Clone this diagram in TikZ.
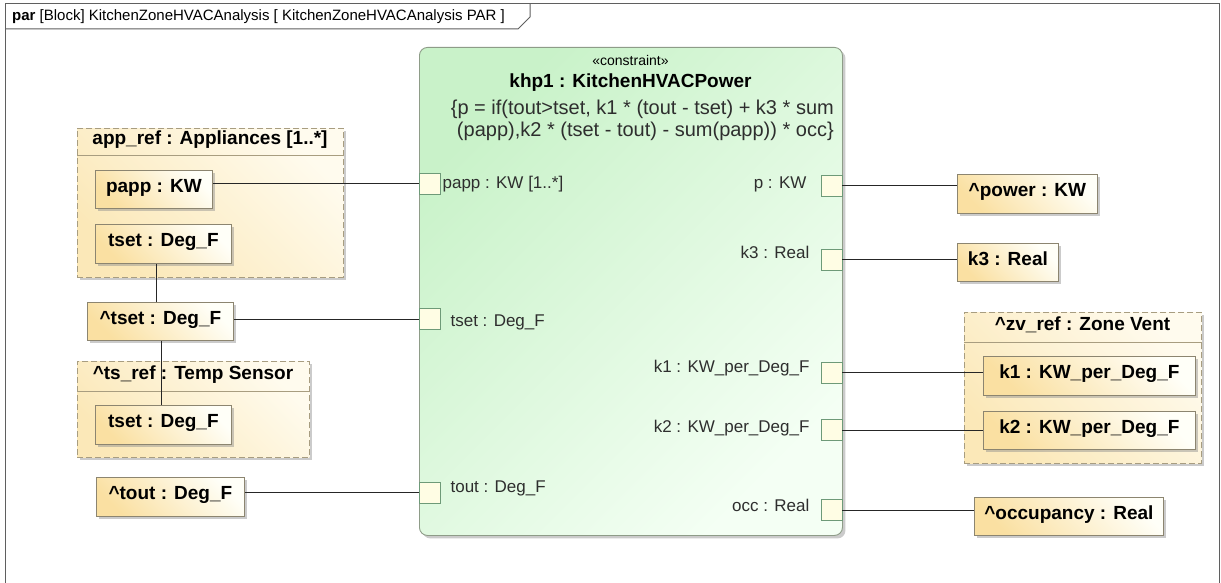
\documentclass[tikz,border=0pt]{standalone}
\usepackage{fontspec}
\setmainfont{Liberation Sans}
\usetikzlibrary{shadows,positioning}

\definecolor{frameline}{HTML}{5F5F5F}
\definecolor{propline}{HTML}{8C8570}
\definecolor{propdark}{HTML}{FAE0A2}
\definecolor{proplight}{HTML}{FFFFF8}
\definecolor{contline}{HTML}{A89D80}
\definecolor{contdark}{HTML}{FBE8B8}
\definecolor{contlight}{HTML}{FFFBEE}
\definecolor{blockline}{HTML}{8E9C88}
\definecolor{blockdark}{HTML}{C9F2C9}
\definecolor{blocklight}{HTML}{F4FFF4}
\definecolor{portline}{HTML}{6E9A78}
\definecolor{portfill}{HTML}{FFFDE4}
\definecolor{labelgray}{HTML}{2E2E2E}

\newcommand\proptext{\fontsize{19}{22}\selectfont\bfseries}
\newcommand\porttext{\fontsize{17}{20}\selectfont}

\tikzset{
  shadowed/.style={drop shadow={shadow xshift=3pt,shadow yshift=-3pt,fill=black!45,opacity=0.45}},
  propbox/.style={shadowed, draw=propline, line width=0.8pt,
    left color=propdark, right color=proplight, shading angle=135,
    font=\proptext, inner sep=0pt, text height=12pt, text depth=6pt, anchor=north west},
  container/.style={shadowed, draw=contline, line width=0.9pt, dash pattern=on 6pt off 3pt,
    left color=contdark, right color=contlight, shading angle=135,
    inner sep=0pt, anchor=north west},
  conttitle/.style={font=\proptext, inner sep=0pt, text height=12pt, text depth=6pt},
  headsep/.style={draw=contline, line width=0.9pt},
  cblock/.style={shadowed, draw=blockline, line width=0.9pt, rounded corners=8pt,
    left color=blockdark, right color=blocklight, shading angle=45,
    inner sep=0pt, anchor=north west},
  portbox/.style={draw=portline, fill=portfill, line width=0.8pt, minimum size=21pt, inner sep=0pt},
  portlabel/.style={font=\porttext, text=labelgray, inner sep=0pt, text height=12pt, text depth=4pt},
  wire/.style={draw=black!85, line width=0.9pt},
}

\begin{document}
\begin{tikzpicture}[x=1pt,y=-1pt]
\useasboundingbox (0,0) rectangle (1221,583);
\fill[white] (0,0) rectangle (1221,583);

% diagram frame and its name tab
\draw[frameline, line width=1pt] (5,583) -- (5,4) -- (1219,4) -- (1219,583);
\draw[frameline, line width=1pt] (5,29) -- (518,29) -- (530,17) -- (530,4);
\node[anchor=west, inner sep=0pt, font=\fontsize{15}{17}\selectfont] (tabtext) at (12,17)
  {\textbf{par} [Block] KitchenZoneHVACAnalysis [ KitchenZoneHVACAnalysis PAR ]};

% constraint property
\node[cblock, minimum width=423, minimum height=488] (khp) at (419,47) {};
\node[font=\fontsize{14}{16}\selectfont, inner sep=0pt] (stereo) at (630.5,60) {«constraint»};
\node[font=\fontsize{19}{22}\selectfont\bfseries, inner sep=0pt] (khptitle) at (630.5,83) {khp1 : KitchenHVACPower};
\node[font=\fontsize{20}{22}\selectfont, align=right, inner sep=0pt, text=labelgray, anchor=east] (formula) at (834,120)
  {\{p = if(tout>tset, k1 * (tout - tset) + k3 * sum\\(papp),k2 * (tset - tout) - sum(papp)) * occ\}};

% ports on the left side
\node[portbox] (pPapp) at (429.5,183.5) {};
\node[portbox] (pTset) at (429.5,319) {};
\node[portbox] (pTout) at (429.5,492.5) {};
\node[portlabel, anchor=west] (lPapp) at ([xshift=2pt,yshift=-1pt]pPapp.east) {papp : KW [1..*]};
\node[portlabel, anchor=west] (lTset) at ([xshift=10pt,yshift=-3pt]pTset.east) {tset : Deg\_F};
\node[portlabel, anchor=west] (lTout) at ([xshift=10pt,yshift=4pt]pTout.east) {tout : Deg\_F};

% ports on the right side
\node[portbox] (pP)   at (831.5,185.5) {};
\node[portbox] (pK3)  at (831.5,259.5) {};
\node[portbox] (pK1)  at (831.5,372.5) {};
\node[portbox] (pK2)  at (831.5,430) {};
\node[portbox] (pOcc) at (831.5,510) {};
\node[portlabel, anchor=east] (lP)   at ([xshift=-14pt,yshift=1pt]pP.west)   {p : KW};
\node[portlabel, anchor=east] (lK3)  at ([xshift=-11pt,yshift=5pt]pK3.west)  {k3 : Real};
\node[portlabel, anchor=east] (lK1)  at ([xshift=-11pt,yshift=4pt]pK1.west)  {k1 : KW\_per\_Deg\_F};
\node[portlabel, anchor=east] (lK2)  at ([xshift=-11pt,yshift=2pt]pK2.west)  {k2 : KW\_per\_Deg\_F};
\node[portlabel, anchor=east] (lOcc) at ([xshift=-11pt,yshift=3pt]pOcc.west) {occ : Real};

% appliances part
\node[container, minimum width=266, minimum height=149] (appref) at (77,128) {};
\draw[headsep] ([yshift=-27pt]appref.north west) -- ([yshift=-27pt]appref.north east);
\node[conttitle] (appreftitle) at (210,141.5) {app\_ref : Appliances [1..*]};
\node[propbox, minimum width=117, minimum height=38] (papp) at (95,170) {papp : KW};
\node[propbox, minimum width=136, minimum height=39] (tsetA) at (95,224) {tset : Deg\_F};

% set point value
\node[propbox, minimum width=146, minimum height=38] (tsetH) at (87,302) {\textasciicircum tset : Deg\_F};

% temperature sensor part
\node[container, minimum width=232, minimum height=96] (tsref) at (77,361) {};
\draw[headsep] ([yshift=-30pt]tsref.north west) -- ([yshift=-30pt]tsref.north east);
\node[conttitle] (tsreftitle) at (193,376) {\textasciicircum ts\_ref : Temp Sensor};
\node[propbox, minimum width=136, minimum height=39] (tsetT) at (95,405) {tset : Deg\_F};

% outside temperature
\node[propbox, minimum width=148, minimum height=39] (tout) at (96,477) {\textasciicircum tout : Deg\_F};

% values on the right
\node[propbox, minimum width=140, minimum height=39] (power) at (957,174) {\textasciicircum power : KW};
\node[propbox, minimum width=101, minimum height=38] (kthree) at (957,243) {k3 : Real};

\node[container, minimum width=237, minimum height=151] (zvref) at (964,312) {};
\draw[headsep] ([yshift=-30pt]zvref.north west) -- ([yshift=-30pt]zvref.north east);
\node[conttitle] (zvreftitle) at (1082.5,327) {\textasciicircum zv\_ref : Zone Vent};
\node[propbox, minimum width=212, minimum height=39] (kone) at (983,356) {k1 : KW\_per\_Deg\_F};
\node[propbox, minimum width=212, minimum height=38] (ktwo) at (983,411) {k2 : KW\_per\_Deg\_F};

\node[propbox, minimum width=189, minimum height=38] (occupancy) at (974,497) {\textasciicircum occupancy : Real};

% binding connectors
\draw[wire] ([xshift=-7pt]tsetA.south) -- ([xshift=-7pt]tsetA.south |- tsetH.north);
\draw[wire] ([xshift=1pt]tsetH.south) -- ([xshift=1pt]tsetH.south |- tsetT.north);
\draw[wire] (pPapp.west) -- (pPapp.west -| papp.east);
\draw[wire] (pTset.west) -- (pTset.west -| tsetH.east);
\draw[wire] (pTout.west) -- (pTout.west -| tout.east);
\draw[wire] (pP.east)   -- (pP.east -| power.west);
\draw[wire] (pK3.east)  -- (pK3.east -| kthree.west);
\draw[wire] (pK1.east)  -- (pK1.east -| kone.west);
\draw[wire] (pK2.east)  -- (pK2.east -| ktwo.west);
\draw[wire] (pOcc.east) -- (pOcc.east -| occupancy.west);
\end{tikzpicture}
\end{document}
